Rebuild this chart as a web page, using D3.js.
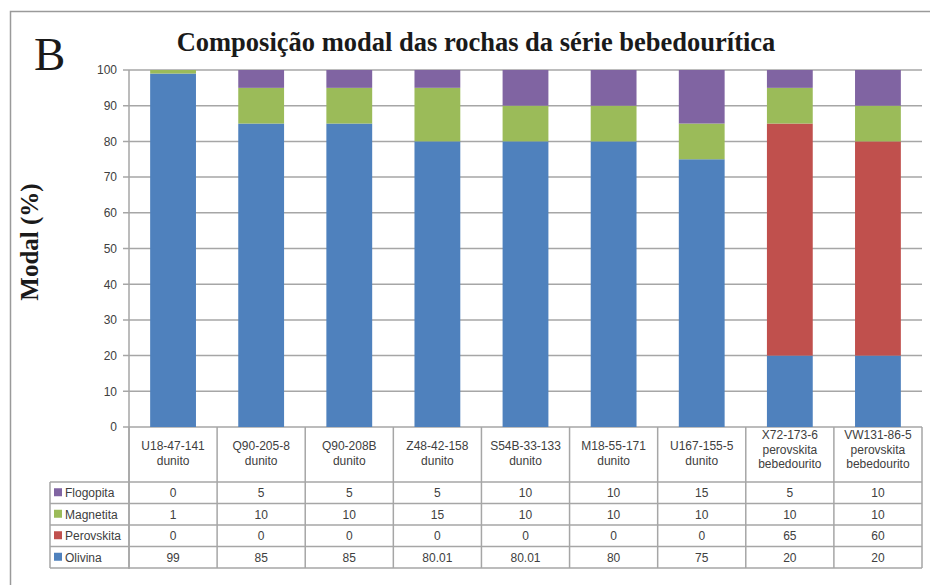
<!DOCTYPE html>
<html>
<head>
<meta charset="utf-8">
<script src="https://cdn.jsdelivr.net/npm/d3@7"></script>
<style>
  body { margin: 0; background: #fff; }
  svg { display: block; }
</style>
</head>
<body>
<div id="chart"></div>
<script>
// sample labels (two or three lines each)
const categories = [
  ["U18-47-141", "dunito"],
  ["Q90-205-8", "dunito"],
  ["Q90-208B", "dunito"],
  ["Z48-42-158", "dunito"],
  ["S54B-33-133", "dunito"],
  ["M18-55-171", "dunito"],
  ["U167-155-5", "dunito"],
  ["X72-173-6", "perovskita", "bebedourito"],
  ["VW131-86-5", "perovskita", "bebedourito"]
];

const olivina    = [99, 85, 85, 80.01, 80.01, 80, 75, 20, 20];
const perovskita = [0, 0, 0, 0, 0, 0, 0, 65, 60];
const magnetita  = [1, 10, 10, 15, 10, 10, 10, 10, 10];
const flogopita  = [0, 5, 5, 5, 10, 10, 15, 5, 10];

const seriesNames = ["Olivina", "Perovskita", "Magnetita", "Flogopita"];
const yTicks = [0, 10, 20, 30, 40, 50, 60, 70, 80, 90, 100];

const colors = {
  Olivina: "#4f81bd",
  Perovskita: "#c0504d",
  Magnetita: "#9bbb59",
  Flogopita: "#8064a2"
};

const width = 930, height = 585;
const plot = { left: 129, right: 922, top: 70, bottom: 427 };

const svg = d3.select("#chart").append("svg")
  .attr("width", width)
  .attr("height", height);

// outer frame
svg.append("rect")
  .attr("x", 10.5).attr("y", 11.5)
  .attr("width", 940).attr("height", 600)
  .attr("fill", "none").attr("stroke", "#9a9a9a").attr("stroke-width", 1.5);

// build rows for stacking
const rows = categories.map((c, i) => ({
  key: i,
  Olivina: olivina[i],
  Perovskita: perovskita[i],
  Magnetita: magnetita[i],
  Flogopita: flogopita[i]
}));

const x = d3.scaleBand()
  .domain(d3.range(categories.length))
  .range([plot.left, plot.right])
  .paddingInner(0)
  .paddingOuter(0);

const y = d3.scaleLinear().domain([0, 100]).range([plot.bottom, plot.top]);

// gridlines
svg.append("g")
  .selectAll("line")
  .data(yTicks)
  .join("line")
  .attr("x1", plot.left - 6).attr("x2", plot.right)
  .attr("y1", d => y(d)).attr("y2", d => y(d))
  .attr("stroke", "#a6a6a6").attr("stroke-width", 1.5);

// stacked bars
const stack = d3.stack().keys(seriesNames);
const layers = stack(rows);
const barFrac = 0.52;

svg.append("g")
  .selectAll("g")
  .data(layers)
  .join("g")
  .attr("fill", d => colors[d.key])
  .selectAll("rect")
  .data(d => d)
  .join("rect")
  .attr("x", d => x(d.data.key) + x.bandwidth() * (1 - barFrac) / 2)
  .attr("width", x.bandwidth() * barFrac)
  .attr("y", d => y(d[1]))
  .attr("height", d => y(d[0]) - y(d[1]));

// y axis
const yAxis = svg.append("g")
  .attr("transform", `translate(${plot.left},0)`)
  .call(d3.axisLeft(y).tickValues(yTicks).tickSize(0).tickPadding(12));
yAxis.select(".domain").remove();
yAxis.selectAll("text")
  .attr("font-family", "Liberation Sans, Arial, sans-serif")
  .attr("font-size", 12)
  .attr("fill", "#404040");

svg.append("line")
  .attr("x1", plot.left).attr("x2", plot.left)
  .attr("y1", plot.top).attr("y2", 569)
  .attr("stroke", "#a6a6a6").attr("stroke-width", 1.5);

// data table
const table = { left: 50, headerBottom: 482, rowH: 21.5 };
const tableRows = ["Flogopita", "Magnetita", "Perovskita", "Olivina"];
const tableData = { Olivina: olivina, Perovskita: perovskita, Magnetita: magnetita, Flogopita: flogopita };
const tableBottom = table.headerBottom + table.rowH * tableRows.length;
const tg = svg.append("g");
const lineColor = "#a6a6a6";

// vertical column lines
tg.selectAll("line.col")
  .data(d3.range(categories.length + 1))
  .join("line")
  .attr("class", "col")
  .attr("x1", i => i < categories.length ? x(i) : plot.right)
  .attr("x2", i => i < categories.length ? x(i) : plot.right)
  .attr("y1", plot.bottom).attr("y2", tableBottom)
  .attr("stroke", lineColor).attr("stroke-width", 1.5);

// horizontal row lines
tg.selectAll("line.row")
  .data(d3.range(tableRows.length + 1))
  .join("line")
  .attr("class", "row")
  .attr("x1", table.left).attr("x2", plot.right)
  .attr("y1", i => table.headerBottom + i * table.rowH)
  .attr("y2", i => table.headerBottom + i * table.rowH)
  .attr("stroke", lineColor).attr("stroke-width", 1.5);

tg.append("line")
  .attr("x1", table.left).attr("x2", table.left)
  .attr("y1", table.headerBottom).attr("y2", tableBottom)
  .attr("stroke", lineColor).attr("stroke-width", 1.5);

// header labels
const font = "Liberation Sans, Arial, sans-serif";
categories.forEach((lines, i) => {
  const cx = x(i) + x.bandwidth() / 2;
  const startY = lines.length === 3 ? 439 : 450;
  const t = tg.append("text")
    .attr("text-anchor", "middle")
    .attr("font-family", font)
    .attr("font-size", 12)
    .attr("fill", "#404040");
  lines.forEach((s, k) => {
    t.append("tspan").attr("x", cx).attr("y", startY + k * 14.5).text(s);
  });
});

// table rows
tableRows.forEach((name, r) => {
  const cy = table.headerBottom + r * table.rowH + table.rowH / 2 + 4.5;
  tg.append("rect")
    .attr("x", 54).attr("y", cy - 9)
    .attr("width", 8).attr("height", 8)
    .attr("fill", colors[name]);
  tg.append("text")
    .attr("x", 65).attr("y", cy)
    .attr("font-family", font).attr("font-size", 12)
    .attr("fill", "#404040")
    .text(name);
  tableData[name].forEach((v, i) => {
    tg.append("text")
      .attr("x", x(i) + x.bandwidth() / 2).attr("y", cy)
      .attr("text-anchor", "middle")
      .attr("font-family", font).attr("font-size", 12)
      .attr("fill", "#404040")
      .text(v);
  });
});

// title
svg.append("text")
  .attr("x", 476).attr("y", 51)
  .attr("text-anchor", "middle")
  .attr("font-family", "Liberation Serif, Times New Roman, serif")
  .attr("font-weight", "bold")
  .attr("font-size", 26.5)
  .attr("fill", "#1a1a1a")
  .text("Composição modal das rochas da série bebedourítica");

svg.append("text")
  .attr("x", 34).attr("y", 70)
  .attr("font-family", "Liberation Serif, Times New Roman, serif")
  .attr("font-size", 47)
  .attr("fill", "#1a1a1a")
  .text("B");

// y axis title
svg.append("text")
  .attr("transform", "translate(38,242) rotate(-90)")
  .attr("text-anchor", "middle")
  .attr("font-family", "Liberation Serif, Times New Roman, serif")
  .attr("font-weight", "bold")
  .attr("font-size", 25)
  .attr("fill", "#1a1a1a")
  .text("Modal (%)");
</script>
</body>
</html>
